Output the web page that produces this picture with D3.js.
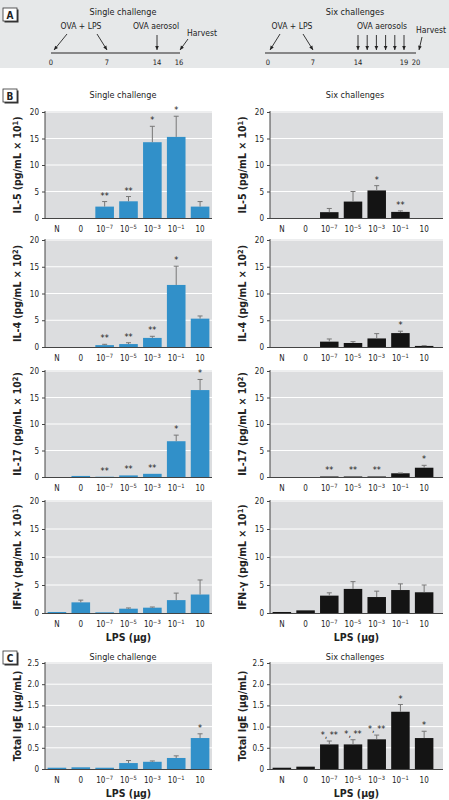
<!DOCTYPE html>
<html><head><meta charset="utf-8">
<script src="https://cdn.jsdelivr.net/npm/d3@7"></script>
<style>
body{margin:0;background:#fff}
svg{display:block}
text{font-family:"Liberation Sans Narrow","DejaVu Sans Condensed","Arial Narrow",sans-serif;fill:#222}
</style>
</head><body><svg id="c" width="449" height="800"></svg>
<script>
// ---------- data ----------
const categories = ["N", "0", "10^−7", "10^−5", "10^−3", "10^−1", "10"];
const cytoTicks = [0, 5, 10, 15, 20];
const igeTicks = [0, 0.5, 1.0, 1.5, 2.0, 2.5];

const il5Single = [0, 0, 2.15, 3.15, 14.3, 15.3, 2.15];
const il5SingleSem = [0, 0, 0.95, 0.9, 3.0, 3.9, 0.95];
const il5SingleSig = ["", "", "**", "**", "*", "*", ""];
const il5Six = [0, 0, 1.1, 3.1, 5.2, 1.15, 0];
const il5SixSem = [0, 0, 0.7, 1.9, 0.9, 0.2, 0];
const il5SixSig = ["", "", "", "", "*", "**", ""];

const il4Single = [0, 0, 0.35, 0.55, 1.7, 11.6, 5.3];
const il4SingleSem = [0, 0, 0.15, 0.25, 0.3, 3.5, 0.5];
const il4SingleSig = ["", "", "**", "**", "**", "*", ""];
const il4Six = [0, 0, 1.0, 0.75, 1.6, 2.6, 0.2];
const il4SixSem = [0, 0, 0.5, 0.25, 0.9, 0.35, 0.05];
const il4SixSig = ["", "", "", "", "", "*", ""];

const il17Single = [0, 0.2, 0.05, 0.3, 0.6, 6.75, 16.4];
const il17SingleSem = [0, 0, 0, 0, 0, 1.15, 2.0];
const il17SingleSig = ["", "", "**", "**", "**", "*", "*"];
const il17Six = [0, 0, 0.1, 0.1, 0.1, 0.7, 1.75];
const il17SixSem = [0, 0, 0, 0, 0, 0.05, 0.45];
const il17SixSig = ["", "", "**", "**", "**", "", "*"];

const ifnSingle = [0.18, 1.9, 0.12, 0.77, 0.95, 2.3, 3.3];
const ifnSingleSem = [0, 0.4, 0, 0.13, 0.12, 1.25, 2.6];
const ifnSix = [0.18, 0.47, 3.1, 4.3, 2.85, 4.1, 3.7];
const ifnSixSem = [0, 0, 0.5, 1.3, 1.05, 1.1, 1.3];

const igeSingle = [0.03, 0.04, 0.03, 0.14, 0.17, 0.26, 0.73];
const igeSingleSem = [0, 0, 0, 0.06, 0.02, 0.05, 0.1];
const igeSingleSig = ["", "", "", "", "", "", "*"];
const igeSix = [0.03, 0.055, 0.58, 0.58, 0.7, 1.35, 0.73];
const igeSixSem = [0, 0, 0.08, 0.11, 0.1, 0.17, 0.16];
const igeSixSig = ["", "", "*, **", "*, **", "*, **", "*", "*"];

// timeline (panel A)
const singleDays = [0, 7, 14, 16];
const sixDays = [0, 7, 14, 19, 20];
const sixAerosolDays = [14, 15, 16, 17, 18, 19];

// ---------- drawing ----------
const svg = d3.select("#c");
const BLUE = "#3190c9", BLACK = "#141414";

function supText(sel, str, size) {
  const parts = str.split("^");
  sel.text(null);
  sel.append("tspan").text(parts[0]);
  if (parts[1]) sel.append("tspan").attr("dy", -size * 0.4).attr("font-size", size * 0.72).text(parts[1]);
}

function panelLetter(x, y, letter) {
  svg.append("rect").attr("x", x + 1.5).attr("y", y + 1.5).attr("width", 14).attr("height", 13).attr("fill", "#333");
  svg.append("rect").attr("x", x).attr("y", y).attr("width", 14).attr("height", 13).attr("fill", "#fff").attr("stroke", "#333").attr("stroke-width", 0.8);
  svg.append("text").attr("x", x + 7).attr("y", y + 10.5).attr("text-anchor", "middle")
    .attr("font-size", 10).attr("font-weight", "bold").text(letter);
}

// Panel A
svg.append("rect").attr("x", 0).attr("y", 0).attr("width", 449).attr("height", 68).attr("fill", "#e6e8e9");
panelLetter(3, 8, "A");

function arrow(g, x1, y1, x2, y2) {
  g.append("line").attr("x1", x1).attr("y1", y1).attr("x2", x2).attr("y2", y2)
    .attr("stroke", "#222").attr("stroke-width", 0.9);
  const a = Math.atan2(y2 - y1, x2 - x1), L = 4.5, w = 0.42;
  const p = [[x2, y2], [x2 - L * Math.cos(a - w), y2 - L * Math.sin(a - w)], [x2 - L * Math.cos(a + w), y2 - L * Math.sin(a + w)]];
  g.append("path").attr("d", "M" + p.join("L") + "Z").attr("fill", "#222");
}

function timeline(days, range, lineExt) {
  const s = d3.scaleLinear().domain(days).range(range);
  const g = svg.append("g");
  g.append("line").attr("x1", lineExt[0]).attr("x2", lineExt[1]).attr("y1", 53).attr("y2", 53)
    .attr("stroke", "#666").attr("stroke-width", 1.5);
  g.selectAll("text.d").data(days).join("text").attr("class", "d")
    .attr("x", d => s(d)).attr("y", 65).attr("text-anchor", "middle").attr("font-size", 7.5).text(d => d);
  return { s, g };
}

// single
{
  const { s, g } = timeline(singleDays, [51, 107, 157, 179], [51, 180]);
  g.append("text").attr("x", 123).attr("y", 15).attr("text-anchor", "middle").attr("font-size", 9).text("Single challenge");
  g.append("text").attr("x", 81).attr("y", 29).attr("text-anchor", "middle").attr("font-size", 8.5).text("OVA + LPS");
  g.append("text").attr("x", 156).attr("y", 29).attr("text-anchor", "middle").attr("font-size", 8.5).text("OVA aerosol");
  g.append("text").attr("x", 202).attr("y", 36).attr("text-anchor", "middle").attr("font-size", 8.5).text("Harvest");
  arrow(g, 67, 34, s(0) + 3, 50);
  arrow(g, 97, 34, s(7), 50);
  arrow(g, s(14), 35, s(14), 50);
  arrow(g, 188, 39, s(16) + 1, 50);
}
// six
{
  const { s, g } = timeline(sixDays, [268, 313, 358, 404, 416], [265, 416]);
  g.append("text").attr("x", 355).attr("y", 15).attr("text-anchor", "middle").attr("font-size", 9).text("Six challenges");
  g.append("text").attr("x", 292).attr("y", 29).attr("text-anchor", "middle").attr("font-size", 8.5).text("OVA + LPS");
  g.append("text").attr("x", 382).attr("y", 29).attr("text-anchor", "middle").attr("font-size", 8.5).text("OVA aerosols");
  g.append("text").attr("x", 431).attr("y", 33).attr("text-anchor", "middle").attr("font-size", 8.5).text("Harvest");
  arrow(g, 280, 34, s(0) + 2, 50);
  arrow(g, 303, 34, s(7), 50);
  sixAerosolDays.forEach(d => arrow(g, s(d), 35, s(d), 50));
  arrow(g, 422, 37, s(20) + 3, 50);
}

// Panel B / C bar charts
function barChart(o) {
  const g = svg.append("g");
  const x = d3.scaleBand().domain(categories).range([o.x0, o.bandEnd]).paddingInner(0.22).paddingOuter(0.11);
  const y = d3.scaleLinear().domain([0, o.max]).range([o.yBot, o.yTop]);
  g.append("rect").attr("x", o.x0).attr("y", o.yTop - 1).attr("width", o.grayEnd - o.x0).attr("height", o.yBot - o.yTop + 1).attr("fill", "#dcdddf");
  g.selectAll("line.grid").data(o.ticks.filter(t => t > 0)).join("line").attr("class", "grid")
    .attr("x1", o.x0).attr("x2", o.grayEnd).attr("y1", d => y(d)).attr("y2", d => y(d))
    .attr("stroke", "#fff").attr("stroke-width", 1);
  g.selectAll("rect.bar").data(o.values).join("rect").attr("class", "bar")
    .attr("x", (d, i) => x(categories[i])).attr("width", x.bandwidth())
    .attr("y", d => y(d)).attr("height", d => o.yBot - y(d)).attr("fill", o.color);
  const errs = o.values.map((v, i) => ({ v, e: o.sem[i], i })).filter(d => d.e > 0);
  errs.forEach(d => {
    const cx = x(categories[d.i]) + x.bandwidth() / 2;
    g.append("line").attr("x1", cx).attr("x2", cx).attr("y1", y(d.v)).attr("y2", y(d.v + d.e)).attr("stroke", "#777").attr("stroke-width", 1);
    g.append("line").attr("x1", cx - 2.5).attr("x2", cx + 2.5).attr("y1", y(d.v + d.e)).attr("y2", y(d.v + d.e)).attr("stroke", "#777").attr("stroke-width", 1);
  });
  if (o.sig) {
    g.selectAll("text.sig").data(o.sig).join("text").attr("class", "sig")
      .attr("x", (d, i) => x(categories[i]) + x.bandwidth() / 2)
      .attr("y", (d, i) => y(o.values[i] + o.sem[i]) - 3)
      .attr("text-anchor", "middle").attr("font-size", 9).attr("fill", "#333").text(d => d);
  }
  const ya = g.append("g").attr("transform", `translate(${o.x0},0)`)
    .call(d3.axisLeft(y).tickValues(o.ticks).tickSize(3).tickPadding(3).tickFormat(o.fmt));
  ya.select(".domain").attr("stroke", "#444").attr("d", `M0,${o.yTop - 1}V${o.yBot}`);
  ya.selectAll(".tick line").attr("stroke", "#444");
  ya.selectAll(".tick text").attr("font-size", 8).attr("font-family", null).attr("fill", "#222");
  g.append("line").attr("x1", o.x0).attr("x2", o.grayEnd).attr("y1", o.yBot + 0.5).attr("y2", o.yBot + 0.5).attr("stroke", "#444").attr("stroke-width", 1);
  g.selectAll("text.xl").data(categories).join("text").attr("class", "xl")
    .attr("x", d => x(d) + x.bandwidth() / 2).attr("y", o.yBot + 14)
    .attr("text-anchor", "middle").attr("font-size", 8)
    .each(function (d) { supText(d3.select(this), d, 8); });
  const t = g.append("text").attr("transform", `translate(${o.titleX},${(o.yTop + o.yBot) / 2}) rotate(-90)`)
    .attr("text-anchor", "middle").attr("font-size", 10.5).attr("font-weight", "bold");
  t.append("tspan").text(o.title[0]);
  if (o.title[1]) {
    t.append("tspan").attr("dy", -3.5).attr("font-size", 7.5).text(o.title[1]);
    t.append("tspan").attr("dy", 3.5).text(o.title[2]);
  }
  if (o.lps) {
    g.append("text").attr("x", (o.x0 + o.grayEnd) / 2).attr("y", o.yBot + 28)
      .attr("text-anchor", "middle").attr("font-size", 10.5).attr("font-weight", "bold").text("LPS (µg)");
  }
}

const L = { x0: 45, bandEnd: 212, grayEnd: 212, titleX: 21, color: BLUE };
const R = { x0: 270, bandEnd: 436, grayEnd: 443, titleX: 246, color: BLACK };
const rows = [
  { yTop: 112, yBot: 218, title: ["IL-5 (pg/mL × 10", "1", ")"], s: [il5Single, il5SingleSem, il5SingleSig], x: [il5Six, il5SixSem, il5SixSig] },
  { yTop: 240, yBot: 347, title: ["IL-4 (pg/mL × 10", "2", ")"], s: [il4Single, il4SingleSem, il4SingleSig], x: [il4Six, il4SixSem, il4SixSig] },
  { yTop: 371, yBot: 477, title: ["IL-17 (pg/mL × 10", "2", ")"], s: [il17Single, il17SingleSem, il17SingleSig], x: [il17Six, il17SixSem, il17SixSig] },
  { yTop: 501, yBot: 613, title: ["IFN-γ (pg/mL × 10", "1", ")"], s: [ifnSingle, ifnSingleSem, null], x: [ifnSix, ifnSixSem, null], lps: true }
];
rows.forEach(r => {
  [[L, r.s], [R, r.x]].forEach(([side, d]) => {
    barChart(Object.assign({}, side, {
      yTop: r.yTop, yBot: r.yBot, max: 20, ticks: cytoTicks, fmt: d3.format("d"),
      values: d[0], sem: d[1], sig: d[2], title: r.title, lps: r.lps
    }));
  });
});
const igeFmt = v => v === 0 ? "0" : d3.format(".1f")(v);
barChart(Object.assign({}, L, { yTop: 663, yBot: 769, max: 2.5, ticks: igeTicks, fmt: igeFmt, values: igeSingle, sem: igeSingleSem, sig: igeSingleSig, title: ["Total IgE (µg/mL)"], lps: true }));
barChart(Object.assign({}, R, { yTop: 663, yBot: 769, max: 2.5, ticks: igeTicks, fmt: igeFmt, values: igeSix, sem: igeSixSem, sig: igeSixSig, title: ["Total IgE (µg/mL)"], lps: true }));

panelLetter(3, 89, "B");
panelLetter(3, 651, "C");
[[123, 98, "Single challenge"], [355, 98, "Six challenges"], [123, 660, "Single challenge"], [355, 660, "Six challenges"]]
  .forEach(([xx, yy, t]) => svg.append("text").attr("x", xx).attr("y", yy).attr("text-anchor", "middle").attr("font-size", 9).text(t));
</script>
</body></html>
